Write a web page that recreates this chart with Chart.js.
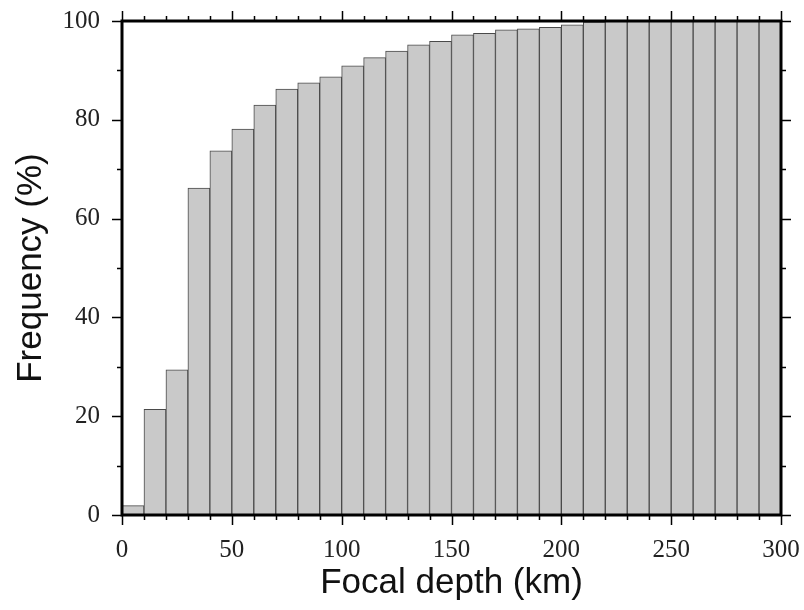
<!DOCTYPE html>
<html>
<head>
<meta charset="utf-8">
<script src="https://cdn.jsdelivr.net/npm/chart.js@4.4.1/dist/chart.umd.min.js"></script>
<style>
  html, body { margin: 0; padding: 0; background: #fff; }
</style>
</head>
<body>
<canvas id="myChart" width="804" height="610"></canvas>
<script>
// bin centres (km), 10 km wide bins
var binCenters = [5, 15, 25, 35, 45, 55, 65, 75, 85, 95,
                  105, 115, 125, 135, 145, 155, 165, 175, 185, 195,
                  205, 215, 225, 235, 245, 255, 265, 275, 285, 295];
// cumulative frequency (%)
var cumulativePct = [1.9, 21.4, 29.4, 66.2, 73.7, 78.1, 83.0, 86.2, 87.5, 88.7,
                     90.9, 92.6, 93.9, 95.2, 95.9, 97.2, 97.5, 98.2, 98.4, 98.7,
                     99.2, 99.8, 100, 100, 100, 100, 100, 100, 100, 100];
var xTickLabels = [0, 50, 100, 150, 200, 250, 300];
var yTickLabels = [0, 20, 40, 60, 80, 100];

var points = binCenters.map(function (x, i) {
    return { x: x, y: cumulativePct[i] };
});

// frame + GMT style ticks on all four sides
var frameTicks = {
    id: 'frameTicks',
    afterDatasetsDraw: function (chart) {
        var ctx = chart.ctx, a = chart.chartArea;
        var xs = chart.scales.x, ys = chart.scales.y;
        ctx.save();
        ctx.strokeStyle = '#000';
        ctx.lineWidth = 1.5;
        ctx.beginPath();
        for (var v = 0; v <= 300; v += 10) {
            var px = Math.round(xs.getPixelForValue(v)) + 0.5;
            var len = (v % 50 === 0) ? 10 : 5;
            ctx.moveTo(px, a.bottom); ctx.lineTo(px, a.bottom + len);
            ctx.moveTo(px, a.top); ctx.lineTo(px, a.top - len);
        }
        for (var w = 0; w <= 100; w += 10) {
            var py = Math.round(ys.getPixelForValue(w)) + 0.5;
            var l2 = (w % 20 === 0) ? 10 : 5;
            ctx.moveTo(a.left, py); ctx.lineTo(a.left - l2, py);
            ctx.moveTo(a.right, py); ctx.lineTo(a.right + l2, py);
        }
        ctx.stroke();
        ctx.lineWidth = 3;
        ctx.strokeRect(a.left, a.top, a.right - a.left, a.bottom - a.top);
        ctx.restore();
    }
};

var ctx = document.getElementById('myChart').getContext('2d');
var myChart = new Chart(ctx, {
    type: 'bar',
    data: {
        datasets: [{
            label: 'Cumulative frequency',
            data: points,
            backgroundColor: '#c9c9c9',
            borderColor: '#4a4a4a',
            borderWidth: 1,
            barPercentage: 1.0,
            categoryPercentage: 1.0
        }]
    },
    options: {
        responsive: false,
        animation: false,
        layout: { padding: { top: 21, right: 23, left: 0, bottom: 0 } },
        plugins: {
            legend: { display: false },
            tooltip: { enabled: false }
        },
        scales: {
            x: {
                type: 'linear',
                min: 0,
                max: 300,
                offset: false,
                grid: { display: false, drawTicks: false, offset: false },
                border: { display: false },
                afterBuildTicks: function (scale) {
                    scale.ticks = xTickLabels.map(function (v) { return { value: v }; });
                },
                afterFit: function (scale) {
                    scale.height = 95;
                    scale.paddingLeft = 0;
                    scale.paddingRight = 0;
                },
                ticks: {
                    padding: 20,
                    maxRotation: 0,
                    color: '#222',
                    font: { family: 'Liberation Serif', size: 25 }
                },
                title: {
                    display: true,
                    text: 'Focal depth (km)',
                    color: '#111',
                    padding: { top: 0, bottom: 6 },
                    font: { family: 'Liberation Sans', size: 35 }
                }
            },
            y: {
                min: 0,
                max: 100,
                grid: { display: false, drawTicks: false },
                border: { display: false },
                afterBuildTicks: function (scale) {
                    scale.ticks = yTickLabels.map(function (v) { return { value: v }; });
                },
                afterFit: function (scale) {
                    scale.width = 122;
                    scale.paddingTop = 0;
                    scale.paddingBottom = 0;
                },
                ticks: {
                    padding: 22,
                    color: '#222',
                    font: { family: 'Liberation Serif', size: 25 }
                },
                title: {
                    display: true,
                    text: 'Frequency (%)',
                    color: '#111',
                    padding: { top: 10, bottom: 0 },
                    font: { family: 'Liberation Sans', size: 35 }
                }
            }
        }
    },
    plugins: [frameTicks]
});
</script>
</body>
</html>
